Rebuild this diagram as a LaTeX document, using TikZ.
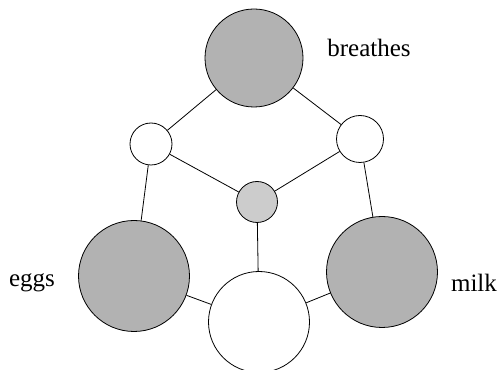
\documentclass[tikz,border=0pt]{standalone}
\usepackage{fontspec}
\setmainfont{Liberation Serif}
\begin{document}
\begin{tikzpicture}[x=1pt,y=1pt,line width=0.8pt,
    nd/.style={circle,draw,inner sep=0pt},
    lbl/.style={anchor=base,font=\fontsize{25}{30}\selectfont}]
      \useasboundingbox (0,0) rectangle (499,370);
      \clip (0,0) rectangle (499,370);
      % circles
      \node[nd,fill=black!30,minimum size=98] (b) at (254,312) {};
      \node[nd,fill=white,minimum size=42] (l) at (151,226) {};
      \node[nd,fill=white,minimum size=47] (r) at (360,231) {};
      \node[nd,fill=black!20,minimum size=41] (c) at (257,168) {};
      \node[nd,fill=black!30,minimum size=111] (e) at (134,94) {};
      \node[nd,fill=black!30,minimum size=111] (m) at (382,98) {};
      \node[nd,fill=white,minimum size=101] (w) at (259,48) {};
      % edges
      \draw (b) -- (l);
      \draw (b) -- (r);
      \draw (l) -- (c);
      \draw (r) -- (c);
      \draw (l) -- (e);
      \draw (r) -- (m);
      \draw (c) -- (w);
      \draw (e) -- (w);
      \draw (m) -- (w);
      % labels
      \node[lbl] (tb) at (369,313) {breathes};
      \node[lbl] (te) at (32,83) {eggs};
      \node[lbl] (tm) at (474,78) {milk};
    \end{tikzpicture}
\end{document}
